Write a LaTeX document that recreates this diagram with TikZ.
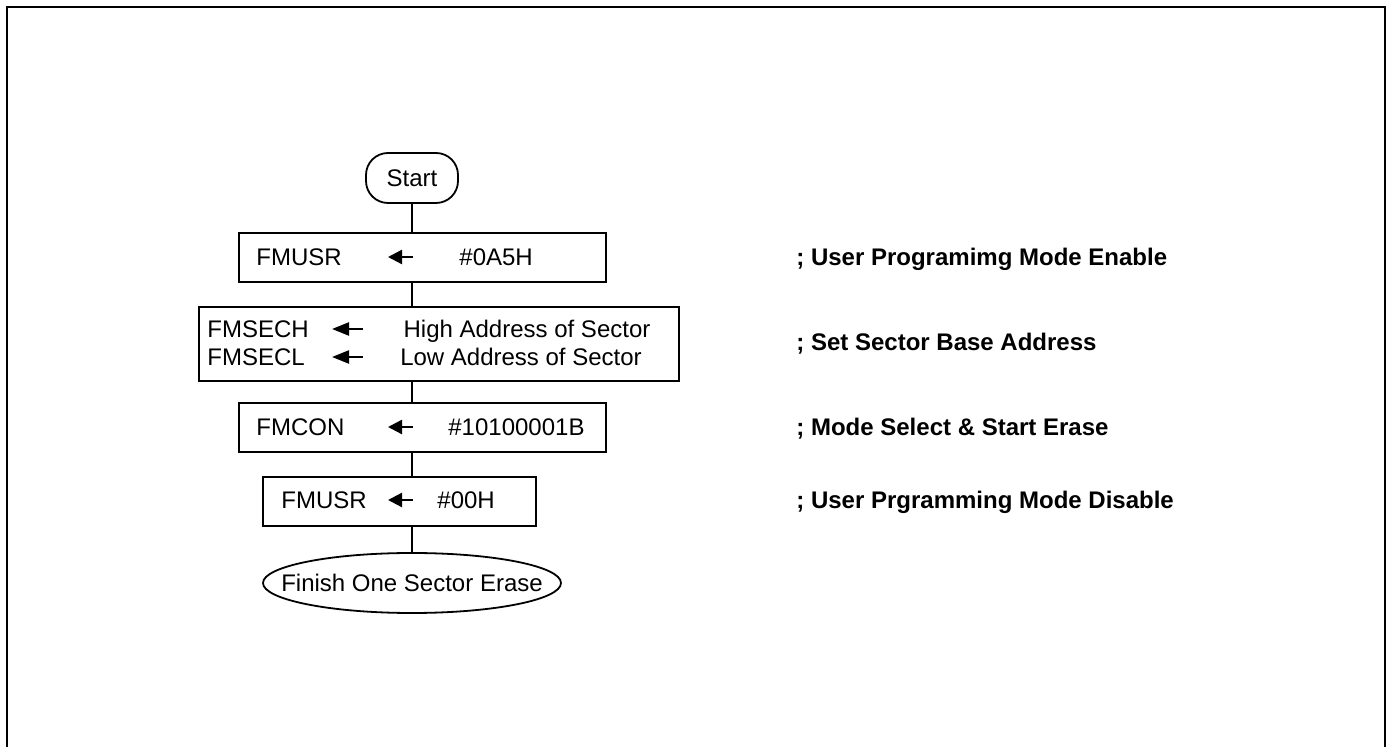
\documentclass[tikz,border=0pt]{standalone}
\usepackage{fontspec}
\setmainfont{Liberation Sans}
\usetikzlibrary{arrows.meta,shapes.geometric}
\begin{document}
\begin{tikzpicture}[x=0.5pt,y=-0.5pt,
  box/.style={draw,line width=0.9pt,inner sep=0pt},
  flowline/.style={line width=0.9pt},
  txt/.style={inner sep=0pt,anchor=base west,font=\fontsize{12pt}{14pt}\selectfont},
  ctxt/.style={inner sep=0pt,anchor=base,font=\fontsize{12pt}{14pt}\selectfont},
  note/.style={inner sep=0pt,anchor=base west,font=\fontsize{12pt}{14pt}\selectfont\bfseries},
  assign/.style={line width=1.2pt,-{Triangle[length=7pt,width=7pt]}},
  assignlong/.style={line width=1.2pt,-{Triangle[length=8.5pt,width=6.5pt]}},
  frame/.style={line width=1pt}]
\useasboundingbox (0,0) rectangle (1386,747);
% outer frame
\coordinate (f1) at (7,747);
\coordinate (f2) at (7,7);
\coordinate (f3) at (1385,7);
\coordinate (f4) at (1385,747);
\draw[frame] (f1) -- (f2) -- (f3) -- (f4);
% terminals and boxes
\node[box,rounded corners=11pt,minimum width=46pt,minimum height=25pt,font=\fontsize{12pt}{14pt}\selectfont] (start) at (412,178) {Start};
\node[box,minimum width=183.5pt,minimum height=24.5pt] (b1) at (422.5,257.5) {};
\node[box,minimum width=240pt,minimum height=37pt] (b2) at (439,344) {};
\node[box,minimum width=183.5pt,minimum height=24.5pt] (b3) at (422.5,427.5) {};
\node[box,minimum width=136.5pt,minimum height=24.5pt] (b4) at (399.5,501.5) {};
\node[box,ellipse,minimum width=149pt,minimum height=30pt] (fin) at (412,583) {};
\node[ctxt,anchor=center] (fint) at (fin.center) {Finish One Sector Erase};
% connectors
\draw[flowline] (start.south) -- (start.south |- b1.north);
\draw[flowline] (start.south |- b1.south) -- (start.south |- b2.north);
\draw[flowline] (start.south |- b2.south) -- (start.south |- b3.north);
\draw[flowline] (start.south |- b3.south) -- (start.south |- b4.north);
\draw[flowline] (start.south |- b4.south) -- (fin.north);
% box 1
\node[txt] (t1a) at (256,266) {FMUSR};
\coordinate (a1s) at (413,257);
\coordinate (a1e) at (388,257);
\draw[assign] (a1s) -- (a1e);
\node[txt] (t1b) at (459,266) {\#0A5H};
% box 2
\node[txt] (t2a) at (207,337.5) {FMSECH};
\coordinate (a2s) at (363,329);
\coordinate (a2e) at (332,329);
\draw[assignlong] (a2s) -- (a2e);
\node[ctxt] (t2b) at (527,337.5) {High Address of Sector};
\node[txt] (t2c) at (207,365.5) {FMSECL};
\coordinate (a3s) at (363,357);
\coordinate (a3e) at (332,357);
\draw[assignlong] (a3s) -- (a3e);
\node[ctxt] (t2d) at (521,365.5) {Low Address of Sector};
% box 3
\node[txt] (t3a) at (256,436) {FMCON};
\coordinate (a4s) at (413,427);
\coordinate (a4e) at (388,427);
\draw[assign] (a4s) -- (a4e);
\node[txt] (t3b) at (448,436) {\#10100001B};
% box 4
\node[txt] (t4a) at (281,509) {FMUSR};
\coordinate (a5s) at (413,500);
\coordinate (a5e) at (388,500);
\draw[assign] (a5s) -- (a5e);
\node[txt] (t4b) at (437,509) {\#00H};
% comments
\node[note] (n1) at (796,266) {; User Programimg Mode Enable};
\node[note] (n2) at (796,351) {; Set Sector Base Address};
\node[note] (n3) at (796,436) {; Mode Select \& Start Erase};
\node[note] (n4) at (796,509) {; User Prgramming Mode Disable};
\end{tikzpicture}
\end{document}
